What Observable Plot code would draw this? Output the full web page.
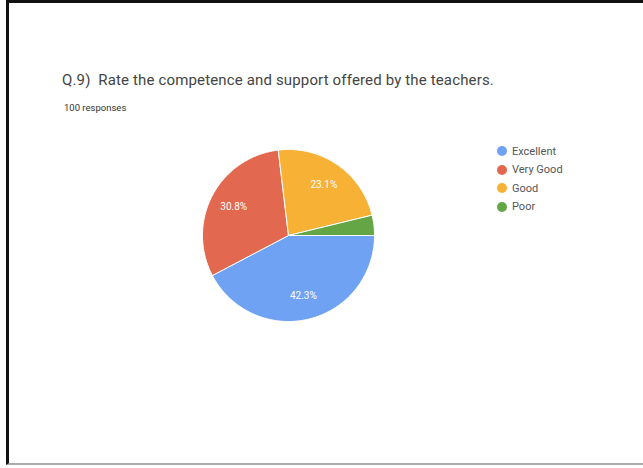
<!DOCTYPE html>
<html>
<head>
<meta charset="utf-8">
<script src="https://cdn.jsdelivr.net/npm/d3@7"></script>
<script src="https://cdn.jsdelivr.net/npm/@observablehq/plot@0.6"></script>
<style>
  html, body { margin: 0; padding: 0; background: #fff; }
  #wrap { position: relative; width: 643px; height: 468px; overflow: hidden; background: #fff; font-family: Roboto, "Noto Sans", Arial, sans-serif; }
  #frame { position: absolute; left: 6px; top: 0; width: 640px; height: 465px; border-top: 3px solid #111; border-left: 3px solid #111; border-bottom: 2px solid #aaa; box-sizing: border-box; }
  #chart { position: absolute; left: 0; top: 0; }
  #title { position: absolute; left: 62px; top: 71px; font-size: 15px; color: #444; letter-spacing: 0.15px; }
  #sub { position: absolute; left: 64px; top: 102px; font-size: 9.5px; color: #333; }
  #legend { position: absolute; left: 497px; top: 142px; font-size: 11px; color: #555; }
  #legend .item { display: flex; align-items: center; height: 18.5px; }
  #legend .dot { width: 10px; height: 10px; border-radius: 50%; margin-right: 5px; }
</style>
</head>
<body>
<div id="wrap">
  <div id="frame"></div>
  <div id="chart"></div>
  <div id="title">Q.9)&nbsp; Rate the competence and support offered by the teachers.</div>
  <div id="sub">100 responses</div>
  <div id="legend"></div>
</div>
<script>
const categories = ["Excellent", "Very Good", "Good", "Poor"];
const percents = [42.3, 30.8, 23.1, 3.8];
const colors = ["#6fa2f2", "#e2694f", "#f7b135", "#64a645"];
const labels = ["42.3%", "30.8%", "23.1%", ""];

const startDeg = 90; // clockwise from 12 o'clock
const total = d3.sum(percents);
const slices = [];
let acc = startDeg;
percents.forEach((p, i) => {
  const span = p / total * 360;
  slices.push({cat: categories[i], a0: acc, a1: acc + span, label: labels[i]});
  acc += span;
});

const toRad = d => d * Math.PI / 180;
const pts = [];
slices.forEach(s => {
  pts.push({cat: s.cat, x: 0, y: 0});
  const n = Math.max(4, Math.ceil((s.a1 - s.a0) / 1));
  for (let k = 0; k <= n; k++) {
    const a = toRad(s.a0 + (s.a1 - s.a0) * k / n);
    pts.push({cat: s.cat, x: Math.sin(a), y: Math.cos(a)});
  }
  pts.push({cat: s.cat, x: 0, y: 0});
});
const labelPts = slices.filter(s => s.label).map(s => {
  const a = toRad((s.a0 + s.a1) / 2);
  return {x: 0.72 * Math.sin(a), y: 0.72 * Math.cos(a), label: s.label};
});

const plot = Plot.plot({
  width: 643, height: 468,
  marginLeft: 202, marginRight: 269, marginTop: 149, marginBottom: 147,
  x: {domain: [-1, 1], axis: null},
  y: {domain: [-1, 1], axis: null},
  color: {domain: categories, range: colors},
  style: {background: "transparent", fontFamily: "Roboto, sans-serif"},
  marks: [
    Plot.line(pts, {x: "x", y: "y", z: "cat", fill: "cat", stroke: "white", strokeWidth: 1, curve: "linear"}),
    Plot.text(labelPts, {x: "x", y: "y", text: "label", fill: "white", fontSize: 10})
  ]
});
document.getElementById("chart").appendChild(plot);

const leg = document.getElementById("legend");
categories.forEach((c, i) => {
  const it = document.createElement("div");
  it.className = "item";
  it.innerHTML = `<span class="dot" style="background:${colors[i]}"></span><span>${c}</span>`;
  leg.appendChild(it);
});
</script>
</body>
</html>
